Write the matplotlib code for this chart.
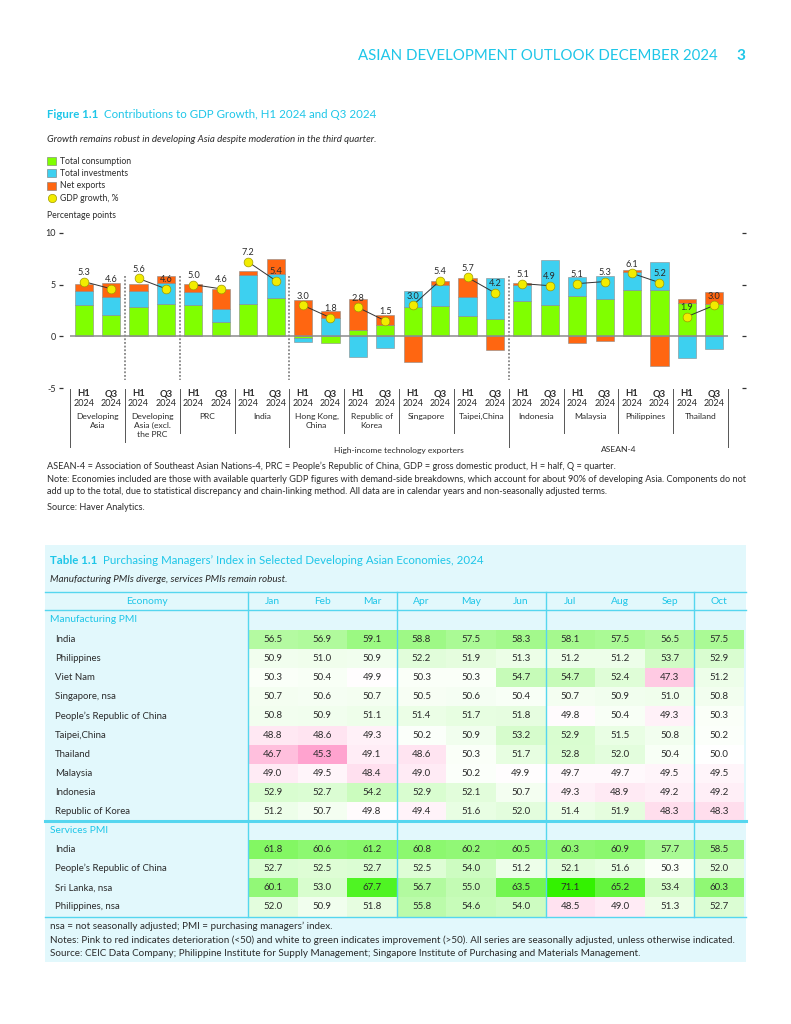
import numpy as np
import matplotlib
matplotlib.use("Agg")
import matplotlib.pyplot as plt
from matplotlib.patches import Rectangle
from matplotlib.transforms import blended_transform_factory

plt.rcParams['font.family'] = ['Lato', 'DejaVu Sans']

# Figure 1.1 - contributions to GDP growth (percentage points)
economies = ["Developing\nAsia", "Developing\nAsia (excl.\nthe PRC", "PRC", "India",
             "Hong Kong,\nChina", "Republic of\nKorea", "Singapore", "Taipei,China",
             "Indonesia", "Malaysia", "Philippines", "Thailand"]
periods = ["H1", "Q3"]
year_label = "2024"
consumption = [3.0, 2.1, 2.85, 3.1, 3.05, 1.35, 3.1, 3.7, -0.2, -0.65, 0.65, 1.05,
               2.8, 2.95, 1.95, 1.7, 3.4, 3.0, 3.9, 3.6, 4.5, 4.5, 3.2, 3.15]
investment = [1.4, 1.7, 1.55, 2.1, 1.25, 1.3, 2.85, 2.3, -0.3, 1.75, -2.0, -1.1,
              1.6, 2.0, 1.85, 3.95, 1.55, 4.35, 1.85, 2.2, 1.7, 2.7, -2.05, -1.2]
net_exports = [0.65, 1.4, 0.65, 0.65, 0.75, 1.95, 0.4, 1.5, 3.5, 0.7, 2.95, 1.05,
               -2.5, 0.4, 1.85, -1.3, 0.25, 0.0, -0.65, -0.45, 0.2, -2.85, 0.4, 1.1]
gdp_growth = [5.3, 4.6, 5.6, 4.6, 5.0, 4.6, 7.2, 5.4, 3.0, 1.8, 2.8, 1.5,
              3.0, 5.4, 5.7, 4.2, 5.1, 4.9, 5.1, 5.3, 6.1, 5.2, 1.9, 3.0]

# Table 1.1 - PMI
months = ["Jan", "Feb", "Mar", "Apr", "May", "Jun", "Jul", "Aug", "Sep", "Oct"]
mfg_economies = ["India", "Philippines", "Viet Nam", "Singapore, nsa", "People\u2019s Republic of China",
                 "Taipei,China", "Thailand", "Malaysia", "Indonesia", "Republic of Korea"]
mfg_pmi = [
    [56.5, 56.9, 59.1, 58.8, 57.5, 58.3, 58.1, 57.5, 56.5, 57.5],
    [50.9, 51.0, 50.9, 52.2, 51.9, 51.3, 51.2, 51.2, 53.7, 52.9],
    [50.3, 50.4, 49.9, 50.3, 50.3, 54.7, 54.7, 52.4, 47.3, 51.2],
    [50.7, 50.6, 50.7, 50.5, 50.6, 50.4, 50.7, 50.9, 51.0, 50.8],
    [50.8, 50.9, 51.1, 51.4, 51.7, 51.8, 49.8, 50.4, 49.3, 50.3],
    [48.8, 48.6, 49.3, 50.2, 50.9, 53.2, 52.9, 51.5, 50.8, 50.2],
    [46.7, 45.3, 49.1, 48.6, 50.3, 51.7, 52.8, 52.0, 50.4, 50.0],
    [49.0, 49.5, 48.4, 49.0, 50.2, 49.9, 49.7, 49.7, 49.5, 49.5],
    [52.9, 52.7, 54.2, 52.9, 52.1, 50.7, 49.3, 48.9, 49.2, 49.2],
    [51.2, 50.7, 49.8, 49.4, 51.6, 52.0, 51.4, 51.9, 48.3, 48.3],
]
svc_economies = ["India", "People\u2019s Republic of China", "Sri Lanka, nsa", "Philippines, nsa"]
svc_pmi = [
    [61.8, 60.6, 61.2, 60.8, 60.2, 60.5, 60.3, 60.9, 57.7, 58.5],
    [52.7, 52.5, 52.7, 52.5, 54.0, 51.2, 52.1, 51.6, 50.3, 52.0],
    [60.1, 53.0, 67.7, 56.7, 55.0, 63.5, 71.1, 65.2, 53.4, 60.3],
    [52.0, 50.9, 51.8, 55.8, 54.6, 54.0, 48.5, 49.0, 51.3, 52.7],
]

GREEN = "#80ff00"
BLUE = "#3dd0f0"
ORANGE = "#ff6611"
CYAN = "#1ec6e8"
LINE_CYAN = "#55d6ef"
TXT = "#2b2b2b"

fig = plt.figure(figsize=(7.91, 10.24), dpi=100)
# page overlay in pixel coordinates
pg = fig.add_axes([0, 0, 1, 1])
pg.set_xlim(0, 791)
pg.set_ylim(1024, 0)
pg.axis("off")

# running header
pg.text(718, 56, "ASIAN DEVELOPMENT OUTLOOK DECEMBER 2024", ha="right", va="center",
        color=CYAN, fontsize=10.8)
pg.text(736, 56, "3", ha="left", va="center", color=CYAN, fontsize=11, fontweight="bold")

# figure title
t1 = pg.text(47, 115, "Figure 1.1", ha="left", va="center", color=CYAN, fontsize=8.3, fontweight="bold")
pg.annotate("  Contributions to GDP Growth, H1 2024 and Q3 2024", xy=(1, 0.5), xycoords=t1,
            ha="left", va="center", color=CYAN, fontsize=8.3)
pg.text(47, 139, "Growth remains robust in developing Asia despite moderation in the third quarter.",
        ha="left", va="center", fontsize=7.0, style="italic", color=TXT)

# legend
legend_items = [("Total consumption", GREEN), ("Total investments", BLUE), ("Net exports", ORANGE)]
for k, (lab, col) in enumerate(legend_items):
    yy = 161 + k * 12.4
    pg.add_patch(Rectangle((47, yy - 4), 9, 8, fc=col, ec="#777777", lw=0.4))
    pg.text(60, yy, lab, ha="left", va="center", fontsize=6.2, color=TXT)
pg.plot([51.5], [198.2], "o", ms=6, mfc="#f2ec00", mec="#a09a00", mew=0.5)
pg.text(60, 198.2, "GDP growth, %", ha="left", va="center", fontsize=6.2, color=TXT)
pg.text(47, 216, "Percentage points", ha="left", va="center", fontsize=6.2, color=TXT)

# chart axes
ax = fig.add_axes([70 / 791, 1 - 388 / 1024, (728 - 70) / 791, (388 - 233) / 1024])
ax.patch.set_alpha(0)
x = np.arange(len(gdp_growth))
pos_base = np.zeros(len(x))
neg_base = np.zeros(len(x))
for vals, col in [(consumption, GREEN), (investment, BLUE), (net_exports, ORANGE)]:
    v = np.array(vals)
    p = np.clip(v, 0, None)
    n = np.clip(v, None, 0)
    m = p > 0
    ax.bar(x[m], p[m], bottom=pos_base[m], width=0.66, color=col, edgecolor="#8a8a8a", lw=0.4, zorder=2)
    m = n < 0
    ax.bar(x[m], n[m], bottom=neg_base[m], width=0.66, color=col, edgecolor="#8a8a8a", lw=0.4, zorder=2)
    pos_base += p
    neg_base += n

ax.axhline(0, color="#8c8c8c", lw=1.1, zorder=3)

for g in range(len(economies)):
    xs = x[2 * g:2 * g + 2]
    ys = gdp_growth[2 * g:2 * g + 2]
    ax.plot(xs, ys, color="#333333", lw=0.7, zorder=4)
ax.plot(x, gdp_growth, "o", ms=6.3, mfc="#f2ec00", mec="#a09a00", mew=0.5, zorder=5)
for xi, v in zip(x, gdp_growth):
    ax.annotate(f"{v:.1f}", (xi, v), xytext=(0, 6.5), textcoords="offset points",
                ha="center", va="center", fontsize=6.6, color=TXT, zorder=6)

for b in [1.5, 3.5, 7.5, 15.5]:
    ax.plot([b, b], [5.8, -4.2], ls=(0, (1.2, 1.2)), color="#707070", lw=1.1, zorder=1)

ax.set_xlim(-0.5, 23.5)
ax.set_ylim(-5, 10)
ax.set_xticks([])
ax.set_yticks([-5, 0, 5, 10])
ax.set_yticklabels(["-5", "0", "5", "10"])
for s in ["top", "bottom", "left", "right"]:
    ax.spines[s].set_visible(False)
ax.spines["left"].set_position(("outward", 5))
ax.spines["right"].set_position(("outward", 10))
ax.tick_params(axis="y", left=True, right=True, labelleft=True, length=3, width=0.9,
               color="#333333", labelsize=6.5, labelcolor=TXT, pad=2)

# category labels under the chart
tr = blended_transform_factory(ax.transData, pg.transData)
for i in x:
    pg.text(i, 394, periods[i % 2], transform=tr, ha="center", va="center", fontsize=6.8,
            fontweight="bold", color=TXT)
    pg.text(i, 404, year_label, transform=tr, ha="center", va="center", fontsize=6.5, color=TXT)
for g, name in enumerate(economies):
    pg.text(2 * g + 0.5, 413, name, transform=tr, ha="center", va="top", fontsize=6.1,
            color=TXT, linespacing=1.35)
long_sep = {-0.5: 447, 1.5: 442, 7.5: 447, 15.5: 447, 23.5: 447}
for b in np.arange(-0.5, 24, 2):
    pg.plot([b, b], [389, long_sep.get(b, 433)], transform=tr, color="#555555", lw=0.7)
pg.text(11.5, 450, "High-income technology exporters", transform=tr, ha="center", va="center",
        fontsize=6.1, color=TXT)
pg.text(19.5, 450, "ASEAN-4", transform=tr, ha="center", va="center", fontsize=6.1, color=TXT)

# notes
notes = [
    (466, "ASEAN-4 = Association of Southeast Asian Nations-4, PRC = People\u2019s Republic of China, GDP = gross domestic product, H = half, Q = quarter."),
    (480, "Note: Economies included are those with available quarterly GDP figures with demand-side breakdowns, which account for about 90% of developing Asia. Components do not"),
    (492, "add up to the total, due to statistical discrepancy and chain-linking method. All data are in calendar years and non-seasonally adjusted terms."),
    (508, "Source: Haver Analytics."),
]
for yy, s in notes:
    pg.text(47, yy, s, ha="left", va="center", fontsize=6.6, color=TXT)

# ---- Table 1.1 ----
TBG = "#e2f8fc"
pg.add_patch(Rectangle((45, 545), 701, 417, fc=TBG, ec="none", zorder=0))
t2 = pg.text(50, 560, "Table 1.1", ha="left", va="center", color=CYAN, fontsize=8.3, fontweight="bold")
pg.annotate("  Purchasing Managers\u2019 Index in Selected Developing Asian Economies, 2024", xy=(1, 0.5),
            xycoords=t2, ha="left", va="center", color=CYAN, fontsize=8.3)
pg.text(50, 580, "Manufacturing PMIs diverge, services PMIs remain robust.", ha="left", va="center",
        fontsize=7.1, style="italic", color=TXT)

left, econ_right, right = 45, 248, 744
col_w = (right - econ_right) / len(months)
row_h = 19.1
y_head_top, y_head_bot = 592, 610
y_mfg_top = 630
y_svc_head = y_mfg_top + len(mfg_pmi) * row_h
y_svc_top = y_svc_head + row_h
y_bottom = y_svc_top + len(svc_pmi) * row_h

all_vals = np.array(mfg_pmi + svc_pmi)
glob_max = all_vals.max()
glob_min = all_vals.min()
G_END = np.array([0.2, 0.95, 0.0])
P_END = np.array([1.0, 0.64, 0.81])
WHITE = np.array([1.0, 1.0, 1.0])


def cell_color(v):
    if v >= 50:
        t = ((v - 50) / (glob_max - 50)) ** 0.85
        return WHITE + (G_END - WHITE) * t
    t = (50 - v) / (50 - glob_min)
    return WHITE + (P_END - WHITE) * t


pg.text((left + econ_right) / 2, 601, "Economy", ha="center", va="center", color=CYAN, fontsize=7.4)
for j, mth in enumerate(months):
    pg.text(econ_right + (j + 0.5) * col_w, 601, mth, ha="center", va="center", color=CYAN, fontsize=7.4)
pg.text(50, 620, "Manufacturing PMI", ha="left", va="center", color=CYAN, fontsize=7.4)
pg.text(50, y_svc_head + row_h / 2, "Services PMI", ha="left", va="center", color=CYAN, fontsize=7.4)


def draw_rows(names, values, y0):
    for r, (name, row) in enumerate(zip(names, values)):
        yc = y0 + (r + 0.5) * row_h
        pg.text(55, yc, name, ha="left", va="center", fontsize=6.9, color=TXT)
        for j, v in enumerate(row):
            pg.add_patch(Rectangle((econ_right + j * col_w, y0 + r * row_h), col_w, row_h,
                                   fc=cell_color(v), ec="none", zorder=1))
            pg.text(econ_right + (j + 0.5) * col_w, yc, f"{v:.1f}", ha="center", va="center",
                    fontsize=7.0, color=TXT, zorder=3)


draw_rows(mfg_economies, mfg_pmi, y_mfg_top)
draw_rows(svc_economies, svc_pmi, y_svc_top)

for yy, lw in [(y_head_top, 1.0), (y_head_bot, 1.0), (y_svc_head, 2.2), (y_bottom, 1.0)]:
    pg.plot([left, right + 2], [yy, yy], color=LINE_CYAN, lw=lw, zorder=2)
for j in [0, 3, 6, 9]:
    xx = econ_right + j * col_w
    pg.plot([xx, xx], [y_head_top, y_bottom], color=LINE_CYAN, lw=1.0, zorder=2)

tnotes = [
    (926, "nsa = not seasonally adjusted; PMI = purchasing managers\u2019 index."),
    (940, "Notes: Pink to red indicates deterioration (<50) and white to green indicates improvement (>50). All series are seasonally adjusted, unless otherwise indicated."),
    (954, "Source: CEIC Data Company; Philippine Institute for Supply Management; Singapore Institute of Purchasing and Materials Management."),
]
for yy, s in tnotes:
    pg.text(50, yy, s, ha="left", va="center", fontsize=7.15, color=TXT)

fig.savefig("out.png", dpi=100)
